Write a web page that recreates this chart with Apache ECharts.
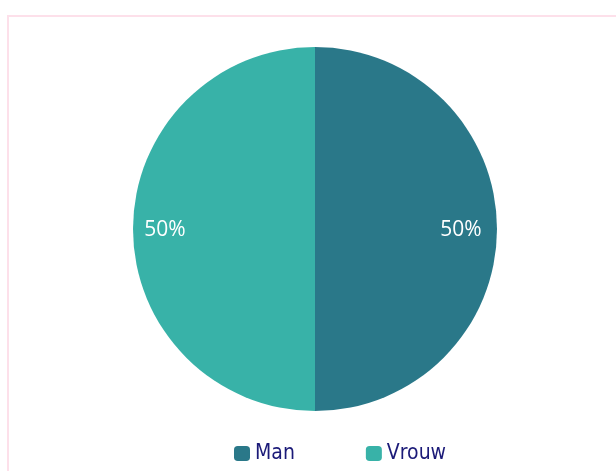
<!DOCTYPE html>
<html>
<head>
<meta charset="utf-8">
<script src="https://cdn.jsdelivr.net/npm/echarts@6/dist/echarts.min.js"></script>
<style>
	html, body { margin: 0; padding: 0; background: #fff; }
	#frame { position: absolute; left: 7px; top: 15px; width: 640px; height: 500px; border: 2px solid #fde0ea; }
	#chart { position: absolute; left: 0; top: 0; width: 616px; height: 471px; }
</style>
</head>
<body>
<div id="frame"></div>
<div id="chart"></div>
<script>
var categories = ['Man', 'Vrouw'];
var values = [50, 50];
var colors = ['#2a7889', '#38b2a8'];

!function(){
	var myChart = echarts.init(document.getElementById('chart'));

	var data = [];
	for (var i = 0; i < categories.length; i++) {
		data.push({ name: categories[i], value: values[i], itemStyle: { color: colors[i] } });
	}

	var option = {
		animation: false,
		legend: {
			data: categories,
			left: 229,
			top: 438,
			itemWidth: 16,
			itemHeight: 15,
			itemGap: 71,
			icon: 'roundRect',
			textStyle: { color: '#1b1a78', fontSize: 21, fontFamily: 'DejaVu Sans Condensed' }
		},
		series: [
			{
				// the visible pie
				type: 'pie',
				center: [315, 229],
				radius: 182,
				startAngle: 90,
				silent: true,
				label: { show: false },
				labelLine: { show: false },
				data: data
			},
			{
				// invisible ring used only to place the labels near the rim
				type: 'pie',
				center: [313, 230],
				radius: [114, 176],
				startAngle: 90,
				silent: true,
				itemStyle: { color: 'rgba(0,0,0,0)' },
				label: {
					show: true,
					position: 'inside',
					formatter: '{d}%',
					color: '#fff',
					fontSize: 21,
					fontFamily: 'Open Sans'
				},
				labelLine: { show: false },
				data: categories.map(function(c, i){ return { name: c, value: values[i] }; })
			}
		]
	};
	myChart.setOption(option);
}();
</script>
</body>
</html>
